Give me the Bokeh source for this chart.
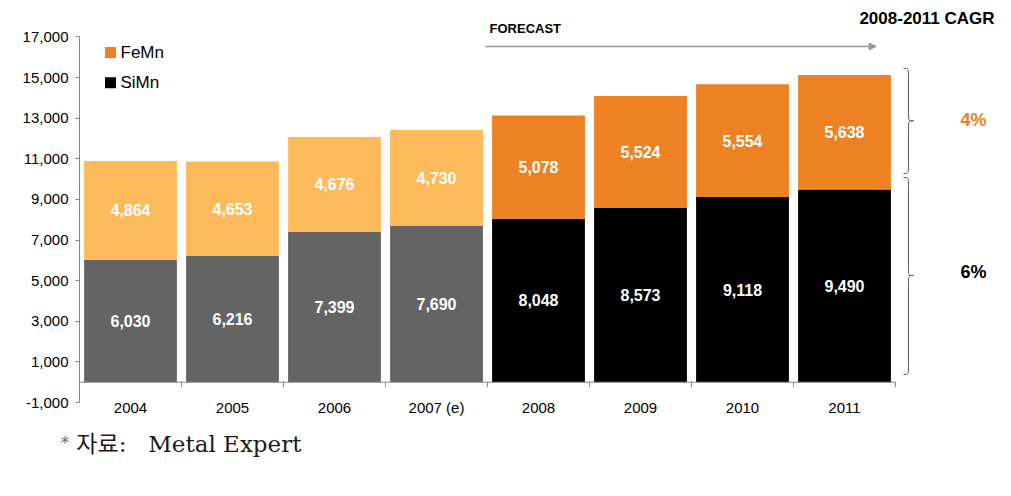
import numpy as np
from bokeh.plotting import figure
from bokeh.layouts import column
from bokeh.models import (ColumnDataSource, FixedTicker, NumeralTickFormatter,
                          Range1d, Arrow, NormalHead, Div)
from bokeh.core.properties import value
from bokeh.embed import file_html
from bokeh.resources import INLINE

# ---------------- data ----------------
years = ["2004", "2005", "2006", "2007 (e)", "2008", "2009", "2010", "2011"]
simn = [6030, 6216, 7399, 7690, 8048, 8573, 9118, 9490]
femn = [4864, 4653, 4676, 4730, 5078, 5524, 5554, 5638]
is_forecast = [False, False, False, False, True, True, True, True]
cagr_femn = "4%"
cagr_simn = "6%"
y_ticks = [-1000, 1000, 3000, 5000, 7000, 9000, 11000, 13000, 15000, 17000]
source_mark = "*"
source_note = "자료:\u00a0\u00a0 Metal Expert"

# ---------------- styles ----------------
C_SIMN_HIST = "#646464"
C_FEMN_HIST = "#FDBA5B"
C_SIMN_FC = "#000000"
C_FEMN_FC = "#EE8222"
AXIS_C = "#868686"

n = len(years)
x = np.arange(n) + 0.5
simn_a = np.array(simn)
femn_a = np.array(femn)
total = simn_a + femn_a

src = ColumnDataSource(dict(
    x=x, simn=simn_a, total=total,
    simn_mid=simn_a / 2, femn_mid=simn_a + femn_a / 2,
    simn_lbl=[f"{v:,}" for v in simn], femn_lbl=[f"{v:,}" for v in femn],
    c_simn=[C_SIMN_FC if f else C_SIMN_HIST for f in is_forecast],
    c_femn=[C_FEMN_FC if f else C_FEMN_HIST for f in is_forecast],
    years=years,
))

PX = 0.02031  # px per unit (used only for pixel-sized offsets)

p = figure(width=995, height=432, output_backend="svg", toolbar_location=None,
           x_range=Range1d(0, 916 / 102), y_range=Range1d(-2477, 18794),
           x_axis_location=None, min_border_left=79, min_border_right=0,
           min_border_top=0, min_border_bottom=0)
p.outline_line_color = None
p.xgrid.visible = False
p.ygrid.visible = False
p.background_fill_color = "white"

# bars
p.vbar(x="x", width=0.91, bottom=0, top="simn", fill_color="c_simn",
       line_color=None, source=src)
p.vbar(x="x", width=0.91, bottom="simn", top="total", fill_color="c_femn",
       line_color=None, source=src)

# value labels
for ycol, lcol in (("simn_mid", "simn_lbl"), ("femn_mid", "femn_lbl")):
    p.text(x="x", y=ycol, text=lcol, source=src, text_color="white",
           text_font=value("Liberation Sans"), text_font_style="bold",
           text_font_size="16px", text_align="center", text_baseline="middle")

# y axis
ya = p.yaxis[0]
ya.bounds = (y_ticks[0], y_ticks[-1])
ya.ticker = FixedTicker(ticks=y_ticks)
ya.formatter = NumeralTickFormatter(format="0,0")
ya.major_tick_out = 4
ya.major_tick_in = 0
ya.minor_tick_out = 0
ya.minor_tick_in = 0
ya.axis_line_color = AXIS_C
ya.major_tick_line_color = AXIS_C
ya.major_label_text_font = "Liberation Sans"
ya.major_label_text_font_size = "15px"
ya.major_label_text_color = "black"
ya.major_label_standoff = 7

# x axis at zero (drawn)
p.segment(x0=0, y0=0, x1=n, y1=0, line_color=AXIS_C, line_width=1)
bx = np.arange(n + 1)
p.segment(x0=bx, y0=np.zeros(n + 1), x1=bx, y1=np.full(n + 1, -5 / PX),
          line_color=AXIS_C, line_width=1)
p.text(x="x", y=-25.5 / PX, text="years", source=src, text_color="black",
       text_font=value("Liberation Sans"), text_font_size="15px",
       text_align="center", text_baseline="middle")

# legend
leg_y = [16233, 14742]
p.scatter(x=[0.304, 0.304], y=leg_y, marker="square", size=11,
          fill_color=[C_FEMN_FC, C_SIMN_FC], line_color=None)
p.text(x=[0.402, 0.402], y=leg_y, text=["FeMn", "SiMn"], text_color="black",
       text_font=value("Liberation Sans"), text_font_size="17px",
       text_baseline="middle")

# forecast arrow and titles
p.add_layout(Arrow(x_start=3.98, y_start=16529, x_end=7.81, y_end=16529,
                   line_color="#999999", line_width=1.5,
                   end=NormalHead(size=7, fill_color="#999999", line_color="#999999")))
p.text(x=[4.02], y=[17412], text=["FORECAST"], text_color="black",
       text_font=value("Liberation Sans"), text_font_style="bold",
       text_font_size="13px", text_baseline="middle")
p.text(x=[8.971], y=[17907], text=["2008-2011 CAGR"], text_color="black",
       text_font=value("Liberation Sans"), text_font_style="bold",
       text_font_size="17px", text_align="right", text_baseline="middle")

# braces
def brace(top, mid, bot):
    x0, xm, x1 = 8.078, 8.127, 8.176
    d = 8 / PX
    bz = dict(
        x0=[x0, xm, x1, xm], y0=[top, mid + d, mid, bot + d],
        x1=[xm, x1, xm, x0], y1=[top - d, mid, mid - d, bot],
        cx0=[xm, xm, xm, xm], cy0=[top, mid, mid, bot],
        cx1=[xm, xm, xm, xm], cy1=[top, mid, mid, bot],
    )
    p.bezier(source=ColumnDataSource(bz), x0="x0", y0="y0", x1="x1", y1="y1",
             cx0="cx0", cy0="cy0", cx1="cx1", cy1="cy1",
             line_color="#555555", line_width=1)
    p.segment(x0=[xm, xm], y0=[top - d, mid - d], x1=[xm, xm], y1=[mid + d, bot + d],
              line_color="#555555", line_width=1)

brace(15450, 12870, 10280)
brace(10080, 5254, 380)

p.text(x=[8.765, 8.765], y=[12900, 5450], text=[cagr_femn, cagr_simn],
       text_color=[C_FEMN_FC, "black"], text_font=value("Liberation Sans"),
       text_font_style="bold", text_font_size="18px",
       text_align="center", text_baseline="middle")

# source note
note = Div(
    text=(f"<span style='font-size:16px;color:#666666;position:relative;top:-3px;'>"
          f"{source_mark}</span> {source_note}"),
    width=400, height=40, margin=(1, 0, 0, 61),
    styles={"font-family": "'DejaVu Serif', 'Noto Sans CJK KR', serif",
            "font-size": "23px", "line-height": "23px", "color": "#1a1a1a",
            "white-space": "nowrap"},
)

layout = column(p, note, spacing=0)
open("out.html", "w").write(file_html(layout, INLINE))
